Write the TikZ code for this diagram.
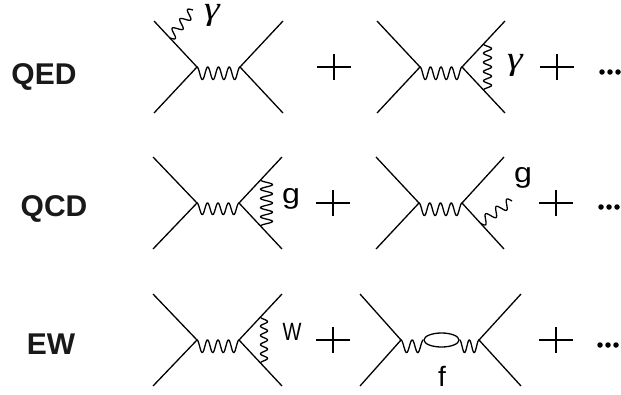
\documentclass[tikz,border=0pt]{standalone}
\usepackage{fontspec}
\setmainfont{Liberation Sans}
\newfontfamily\gamfont{Liberation Serif}
\usetikzlibrary{calc,shapes.geometric}
\tikzset{
  x=1pt,y=-1pt,
  fermion/.style={line width=1.3pt,line join=miter},
  boson/.style={line width=1.3pt,line join=round},
  plusbar/.style={line width=1.3pt},
  rowlabel/.style={font=\bfseries\fontsize{30}{32}\selectfont,inner sep=0pt,anchor=base,text=black!90},
  gl/.style={font=\gamfont\itshape\fontsize{33}{34}\selectfont,inner sep=0pt},
  tl/.style={font=\fontsize{28}{30}\selectfont,inner sep=0pt},
  wl/.style={font=\fontsize{25}{27}\selectfont,inner sep=0pt},
  dotc/.style={circle,fill=black,inner sep=0pt,minimum size=5.5pt},
  loopn/.style={ellipse,draw,line width=1.3pt,inner sep=0pt,minimum width=35pt,minimum height=14pt}
}
\newcommand{\wiggeom}[2]{%
  \path let \p1=($(#2)-(#1)$), \n1={atan2(\y1,\x1)}, \n2={veclen(\x1,\y1)} in
    \pgfextra{\xdef\wigang{\n1}\xdef\wiglen{\n2}};
}
% one-sided wave: offset to the right of the direction of travel
\newcommand{\wavea}[4]{%
  \wiggeom{#1}{#2}
  \draw[boson,shift={(#1)},rotate=\wigang] plot[domain=0:1,samples=161,variable=\t]
    ({\t*\wiglen},{#4*(1-cos(360*#3*\t))});
}
% centred wave
\newcommand{\waveb}[4]{%
  \wiggeom{#1}{#2}
  \draw[boson,shift={(#1)},rotate=\wigang] plot[domain=0:1,samples=121,variable=\t]
    ({\t*\wiglen},{#4*sin(360*#3*\t)});
}
\newcommand{\plusat}[3]{%
  \coordinate (#1w) at (#2-17,#3); \coordinate (#1e) at (#2+17,#3);
  \coordinate (#1n) at (#2,#3-13); \coordinate (#1s) at (#2,#3+13);
  \draw[plusbar] (#1w) -- (#1e); \draw[plusbar] (#1n) -- (#1s);
}
\newcommand{\dotsat}[3]{%
  \node[dotc] (#1a) at (#2,#3) {}; \node[dotc] (#1b) at (#2+8,#3) {}; \node[dotc] (#1c) at (#2+16,#3) {};
}
\newcommand{\legs}[7]{%
  \coordinate (#1tl) at (#2,#6); \coordinate (#1bl) at (#2,2*#7-#6);
  \coordinate (#1tr) at (#5,#6); \coordinate (#1br) at (#5,2*#7-#6);
  \coordinate (#1vl) at (#3,#7); \coordinate (#1vr) at (#4,#7);
  \draw[fermion] (#1tl) -- (#1vl) -- (#1bl);
  \draw[fermion] (#1tr) -- (#1vr) -- (#1br);
}
\begin{document}
\begin{tikzpicture}
\useasboundingbox (0,0) rectangle (621,394);
% row labels
\node[rowlabel] (qed) at (44,84) {QED};
\node[rowlabel] (qcd) at (54,216) {QCD};
\node[rowlabel] (ew) at (51,354) {EW};
% row 1 left
\legs{a}{154}{197}{240}{283}{21}{67}{}
\wavea{avl}{avr}{4}{6.3}
\coordinate (ae1) at ($(atl)!0.37!(avl)$);
\coordinate (ae2) at (193,10);
\waveb{ae1}{ae2}{3}{4.5}
\node[gl] (gam1) at (212,15) {\scalebox{1.2}[1]{γ}};
\plusat{pa}{334}{67}
% row 1 right
\legs{b}{377}{420}{462}{505}{21}{67}{}
\wavea{bvl}{bvr}{4}{6.3}
\coordinate (be1) at ($(bvr)!0.5!(bbr)$);
\coordinate (be2) at ($(bvr)!0.5!(btr)$);
\wavea{be1}{be2}{5}{4}
\node[gl] (gam2) at (515,65) {\scalebox{1.2}[1]{γ}};
\plusat{pb}{557}{67}
\dotsat{da}{602}{72}
% row 2 left
\legs{c}{153}{197}{239}{282}{157}{203}{}
\wavea{cvl}{cvr}{4}{5.8}
\coordinate (ce1) at ($(cvr)!0.5!(cbr)$);
\coordinate (ce2) at ($(cvr)!0.5!(ctr)$);
\wavea{ce1}{ce2}{5}{6}
\node[tl] (g1) at (291,198.5) {\scalebox{1.15}[1]{g}};
\plusat{pc}{333}{203}
% row 2 right
\legs{d}{376}{419}{462}{504}{157}{203}{}
\wavea{dvl}{dvr}{4}{6.3}
\coordinate (de1) at ($(dvr)!0.435!(dbr)$);
\coordinate (de2) at (512,201);
\waveb{de1}{de2}{3}{4.5}
\node[tl] (g2) at (523,178) {\scalebox{1.15}[1]{g}};
\plusat{pd}{556}{203}
\dotsat{db}{601}{207}
% row 3 left
\legs{e}{153}{197}{239}{282}{294}{340}{}
\wavea{evl}{evr}{4}{6.3}
\coordinate (ee1) at ($(evr)!0.5!(ebr)$);
\coordinate (ee2) at ($(evr)!0.5!(etr)$);
\wavea{ee1}{ee2}{5}{3.5}
\node[wl] (w) at (292,332) {\scalebox{.8}[1]{W}};
\plusat{pe}{333}{340}
% row 3 right
\legs{f}{360}{401}{479}{521}{294}{340}{}
\node[loopn] (loop) at (441.5,340) {};
\wavea{fvl}{loop.west}{2}{6.3}
\wavea{loop.east}{fvr}{2}{6.3}
\node[tl] (ff) at (442,376) {f};
\plusat{pf}{556}{340}
\dotsat{dc}{600}{345}
\end{tikzpicture}
\end{document}
